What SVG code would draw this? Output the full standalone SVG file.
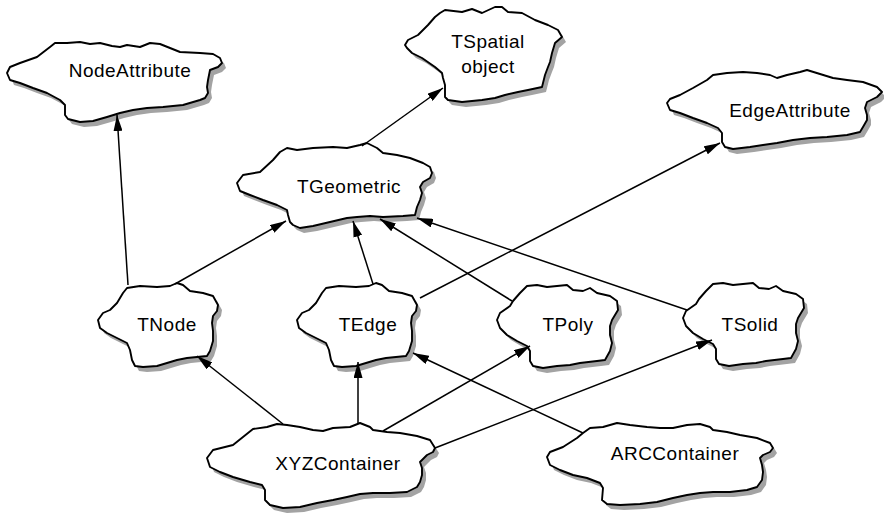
<svg xmlns="http://www.w3.org/2000/svg" xmlns:xlink="http://www.w3.org/1999/xlink" width="884" height="515" viewBox="0 0 884 515">
<style>
.bg{fill:#ffffff}
.shadow{fill:#a3a3a3;stroke:none}
.cloud{fill:#ffffff;stroke:#000000;stroke-width:1.9;stroke-linejoin:round}
.lbl{font-family:"Liberation Sans",Arial,sans-serif;font-size:19px;letter-spacing:0.5px;fill:#000000;text-anchor:middle}
.conn{stroke:#000000;stroke-width:1.5;fill:none;marker-end:url(#arr)}
</style>
<defs>
<marker id="arr" viewBox="0 0 16 9" refX="16" refY="4.5" markerWidth="16" markerHeight="9" markerUnits="userSpaceOnUse" orient="auto">
<path d="M0,0 L16,4.5 L0,9 Z" fill="#000000"/>
</marker>
<path id="c-nodeattr" d="M7,73 L10,67 L20,63 L37,57 L50,47 L55,43 L67,43 L80,42 L90,44 L100,43 L112,46 L120,47 L127,45 L140,47 L150,43 L160,44 L170,48 L180,52 L200,53 L213,54 L220,58 L222,63 L218,67 L210,70 L208,80 L207,87 L208,93 L205,98 L200,100 L183,105 L163,107 L147,108 L133,110 L120,113 L107,117 L93,121 L80,122 L68,119 L65,115 L65,105 L60,100 L47,93 L33,88 L20,83 L10,80 Z"/>
<path id="c-tspatial" d="M405,45 L408,40 L418,35 L428,25 L435,17 L440,13 L445,10 L462,12 L472,9 L482,13 L495,7 L502,7 L508,12 L522,13 L535,20 L548,25 L558,30 L562,37 L555,43 L552,53 L550,62 L548,67 L545,75 L542,87 L528,90 L518,92 L505,95 L495,98 L482,100 L462,102 L448,100 L445,97 L445,85 L443,78 L442,73 L435,67 L422,58 L412,53 L407,48 Z"/>
<path id="c-edgeattr" d="M667,103 L670,99 L680,95 L693,88 L707,80 L713,75 L727,73 L743,72 L757,73 L770,75 L777,78 L787,75 L800,72 L807,70 L820,74 L833,78 L847,80 L863,82 L877,87 L882,92 L877,97 L867,102 L865,108 L867,115 L867,120 L863,127 L860,132 L847,135 L827,137 L810,138 L793,140 L777,143 L763,145 L750,147 L733,149 L725,147 L722,142 L722,133 L718,128 L707,123 L693,118 L680,113 L670,110 Z"/>
<path id="c-tgeom" d="M237,183 L243,175 L260,172 L273,160 L280,152 L287,148 L297,150 L313,148 L333,147 L347,148 L360,145 L367,143 L377,148 L383,153 L397,155 L410,158 L423,163 L430,167 L432,173 L430,178 L423,182 L420,187 L422,193 L420,200 L417,207 L415,215 L403,216 L383,217 L370,216 L357,217 L347,218 L330,222 L313,226 L300,228 L293,225 L290,222 L288,215 L287,210 L277,205 L263,200 L250,195 L240,191 Z"/>
<path id="c-small" d="M98,320 L103,313 L110,310 L117,303 L123,293 L127,288 L140,286 L157,287 L170,286 L177,283 L183,285 L190,291 L203,293 L213,296 L218,305 L217,311 L213,316 L212,323 L213,331 L213,341 L210,351 L207,356 L197,357 L187,358 L177,360 L167,363 L157,366 L143,367 L135,366 L132,360 L130,350 L127,343 L117,338 L107,333 L100,328 Z"/>
<path id="c-poly" d="M497,320 L500,313 L510,306 L513,301 L520,293 L527,286 L537,285 L547,287 L557,286 L567,285 L573,290 L583,291 L590,288 L597,293 L610,296 L617,301 L618,310 L615,315 L612,320 L610,326 L610,335 L612,343 L610,351 L605,360 L597,361 L580,363 L570,365 L557,366 L543,368 L533,366 L530,361 L530,351 L527,346 L517,341 L507,335 L500,328 Z"/>
<path id="c-xyz" d="M207,458 L213,450 L233,445 L243,437 L253,429 L267,427 L277,424 L287,425 L300,427 L313,430 L323,431 L333,428 L350,427 L360,423 L370,427 L373,430 L387,432 L400,433 L417,436 L430,440 L435,448 L433,452 L427,455 L420,462 L422,468 L422,475 L420,482 L417,487 L407,492 L390,493 L373,493 L360,494 L347,497 L333,500 L317,503 L300,507 L283,508 L270,505 L265,500 L265,490 L262,485 L250,482 L233,477 L220,472 L210,467 Z"/>
<path id="c-arc" d="M547,457 L550,452 L563,447 L577,438 L583,433 L590,428 L603,427 L617,423 L630,425 L647,427 L660,428 L673,428 L687,425 L700,424 L710,427 L713,430 L727,432 L740,435 L757,438 L770,443 L773,448 L770,452 L763,455 L760,458 L762,465 L763,472 L762,480 L757,487 L747,490 L730,492 L713,492 L700,493 L687,495 L673,498 L657,502 L640,504 L620,505 L607,504 L602,500 L603,488 L600,483 L587,478 L573,475 L560,470 L550,465 Z"/>
</defs>
<rect class="bg" x="0" y="0" width="884" height="515"/>

<g id="node-NodeAttribute">
<use xlink:href="#c-nodeattr" class="shadow" transform="translate(4,5)"/>
<use xlink:href="#c-nodeattr" class="cloud"/>
<text class="lbl" x="130" y="77">NodeAttribute</text>
</g>
<g id="node-TSpatialObject">
<use xlink:href="#c-tspatial" class="shadow" transform="translate(4,5)"/>
<use xlink:href="#c-tspatial" class="cloud"/>
<text class="lbl" x="488" y="48">TSpatial</text>
<text class="lbl" x="488" y="73">object</text>
</g>
<g id="node-EdgeAttribute">
<use xlink:href="#c-edgeattr" class="shadow" transform="translate(4,5)"/>
<use xlink:href="#c-edgeattr" class="cloud"/>
<text class="lbl" x="790" y="117">EdgeAttribute</text>
</g>
<g id="node-TGeometric">
<use xlink:href="#c-tgeom" class="shadow" transform="translate(4,5)"/>
<use xlink:href="#c-tgeom" class="cloud"/>
<text class="lbl" x="349" y="193">TGeometric</text>
</g>
<g id="node-TNode">
<use xlink:href="#c-small" class="shadow" transform="translate(4,5)"/>
<use xlink:href="#c-small" class="cloud"/>
<text class="lbl" x="167" y="331">TNode</text>
</g>
<g id="node-TEdge">
<use xlink:href="#c-small" class="shadow" transform="translate(203,5)"/>
<use xlink:href="#c-small" class="cloud" transform="translate(199,0)"/>
<text class="lbl" x="368" y="331">TEdge</text>
</g>
<g id="node-TPoly">
<use xlink:href="#c-poly" class="shadow" transform="translate(4,5)"/>
<use xlink:href="#c-poly" class="cloud"/>
<text class="lbl" x="568" y="331">TPoly</text>
</g>
<g id="node-TSolid">
<use xlink:href="#c-poly" class="shadow" transform="translate(190,3)"/>
<use xlink:href="#c-poly" class="cloud" transform="translate(186,-2)"/>
<text class="lbl" x="750" y="331">TSolid</text>
</g>
<g id="node-XYZContainer">
<use xlink:href="#c-xyz" class="shadow" transform="translate(4,5)"/>
<use xlink:href="#c-xyz" class="cloud"/>
<text class="lbl" x="338" y="470">XYZContainer</text>
</g>
<g id="node-ARCContainer">
<use xlink:href="#c-arc" class="shadow" transform="translate(4,5)"/>
<use xlink:href="#c-arc" class="cloud"/>
<text class="lbl" x="675" y="460">ARCContainer</text>
</g>

<g id="connectors">
<path class="conn" d="M128,285 L117,115"/>
<path class="conn" d="M175,284 L286,221"/>
<path class="conn" d="M362,146 L443,88"/>
<path class="conn" d="M373,284 L353,221"/>
<path class="conn" d="M512,301 L380,219"/>
<path class="conn" d="M687,310 L417,218"/>
<path class="conn" d="M420,298 L720,143"/>
<path class="conn" d="M283,424 L197,356"/>
<path class="conn" d="M358,424 L358,362"/>
<path class="conn" d="M383,431 L530,346"/>
<path class="conn" d="M435,448 L712,340"/>
<path class="conn" d="M583,433 L413,353"/>
</g>
</svg>
